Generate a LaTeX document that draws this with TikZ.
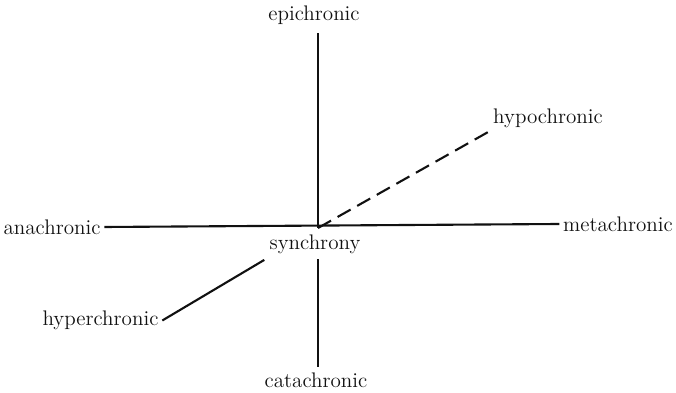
\documentclass[tikz,border=0pt]{standalone}
\usepackage{xcolor}
\definecolor{ink}{HTML}{111111}

\begin{document}
\begin{tikzpicture}[
      every node/.style={font=\fontsize{12}{14}\selectfont, text=ink, inner sep=2pt},
      axis/.style={line width=1.2pt, ink},
      dashaxis/.style={axis, dash pattern=on 8.5pt off 4.3pt}]
    \useasboundingbox (0,0) rectangle (13.52,7.86);
    \coordinate (O) at (6.36,3.30);
    \node (epi) at (6.28,7.56) {epichronic};
    \node (cata) at (6.32,0.26) {catachronic};
    \node (ana) at (1.04,3.32) {anachronic};
    \node (meta) at (12.36,3.38) {metachronic};
    \node (hypo) at (10.96,5.50) {hypochronic};
    \node (hyper) at (2.01,1.45) {hyperchronic};
    \node (syn) at (6.30,2.98) {synchrony};
    \draw[axis, shorten >=3pt] (O) -- (O |- epi.south);
    \draw[axis, shorten <=1pt, shorten >=1pt] (syn.south -| O) -- (O |- cata.north);
    \draw[axis] (ana.east) -- (meta.west);
    \draw[dashaxis] (O) -- (hypo.south west);
    \draw[axis, shorten >=1.25cm] (hyper.east) -- (O);
  \end{tikzpicture}
\end{document}
